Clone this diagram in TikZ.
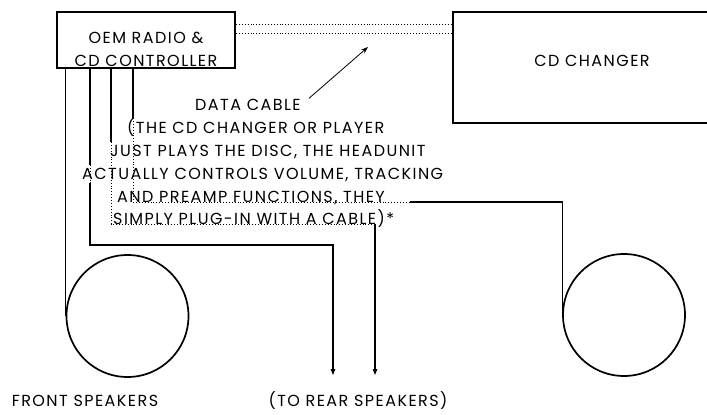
\documentclass[tikz,border=0pt]{standalone}
\usepackage{fontspec}
\setmainfont{Poppins}[LetterSpace=9]
\usetikzlibrary{arrows.meta}

\begin{document}
\begin{tikzpicture}[x=1pt,y=-1pt,
  box/.style={draw,line width=2pt,inner sep=0pt},
  wire/.style={line width=1.1pt},
  thru/.style={line width=0.9pt,dotted},
  spk/.style={draw,circle,line width=1.7pt,minimum size=122pt,inner sep=0pt},
  txt/.style={anchor=base west,inner sep=0pt,font=\fontsize{16}{16}\selectfont},
  tip/.style={-{Triangle[length=6pt,width=4.5pt]}}]
  \useasboundingbox (0,0) rectangle (707,415);
  \clip (0,0) rectangle (707,415);
  % units
  \node[box,minimum width=178pt,minimum height=56pt,
    label={[align=center,font=\fontsize{16}{23}\selectfont,yshift=-9pt]center:OEM RADIO \&\\CD CONTROLLER}] (radio) at (146,40) {};
  \node[box,minimum width=278pt,minimum height=111pt,
    label={[txt,anchor=center,yshift=7pt]center:CD CHANGER}] (changer) at (592,67.5) {};
  \node[spk] (lspk) at (127.5,316) {};
  \node[spk] (rspk) at (624,315) {};
  % data cable
  \draw[thru] (radio.east |- 0,24) -- (changer.west |- 0,24);
  \draw[thru] (radio.east |- 0,33) -- (changer.west |- 0,33);
  \node[txt] (cable) at (195,110) {DATA CABLE};
  \coordinate (cabletip) at (368,47);
  \draw[line width=0.8pt,-{Stealth[length=7pt,width=5pt]}] ([xshift=8pt]cable.north east) -- (cabletip);
  % note
  \node[txt] (n1) at (127,133) {(THE CD CHANGER OR PLAYER};
  \node[txt] (n2) at (110,156) {JUST PLAYS THE DISC, THE HEADUNIT};
  \node[txt] (n3) at (82,179) {ACTUALLY CONTROLS VOLUME, TRACKING};
  \node[txt] (n4) at (117,202) {AND PREAMP FUNCTIONS, THEY};
  \node[txt] (n5) at (113,224) {SIMPLY PLUG-IN WITH A CABLE)*};
  % speaker wires
  \draw[wire] (radio.south -| lspk.west) -- (lspk.west);
  \coordinate (rear1) at (333,375);
  \coordinate (rear2) at (375,375);
  \draw[wire] (radio.south -| 90,0) -- (90,165);
  \draw[thru] (90,165) -- (90,183);
  \draw[wire,tip] (90,183) -- (90,245) -- (rear1 |- 0,245) -- (rear1);
  \draw[wire] (radio.south -| 111,0) -- (111,142);
  \draw[thru] (111,142) -- (111,224) -- (rear2 |- 0,224);
  \draw[wire,tip] (rear2 |- 0,224) -- (rear2);
  \draw[wire] (radio.south -| 133,0) -- (133,118);
  \draw[thru] (133,118) -- (133,202) -- (410,202);
  \draw[wire] (410,202) -- (rspk.west |- 0,202) -- (rspk.west);
  % labels
  \node[txt,anchor=center] (front) at (85,401) {FRONT SPEAKERS};
  \node[txt,anchor=center] (rear) at (358,401) {(TO REAR SPEAKERS)};
\end{tikzpicture}
\end{document}
